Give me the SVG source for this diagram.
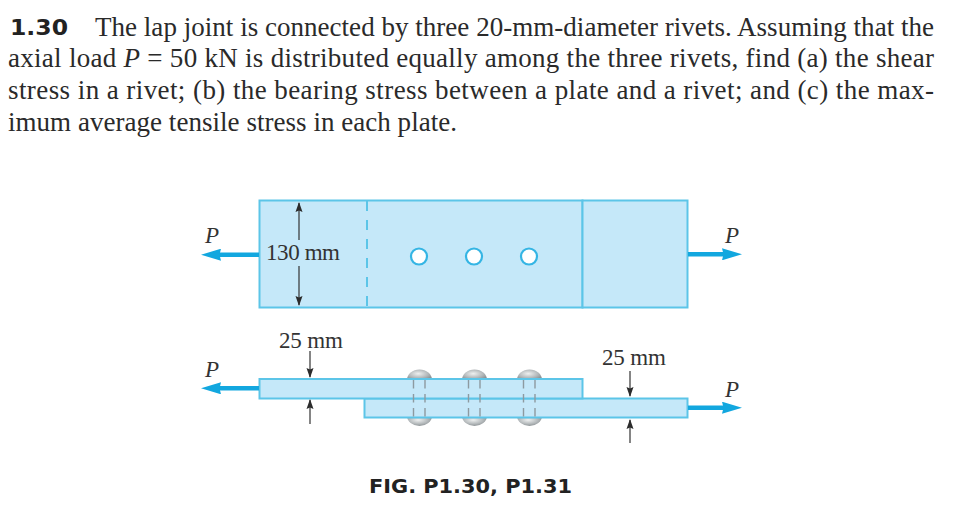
<svg xmlns="http://www.w3.org/2000/svg" width="979" height="523" viewBox="0 0 979 523">
<defs>
<radialGradient id="rivet" cx="0.45" cy="0.4" r="0.7"><stop offset="0" stop-color="#eef0f0"/><stop offset="0.55" stop-color="#b4b9bb"/><stop offset="1" stop-color="#7d8386"/></radialGradient>
<marker id="bl" markerUnits="userSpaceOnUse" markerWidth="20" markerHeight="12" refX="6" refY="6" orient="auto"><path d="M0,0 L20,6 L0,12 L1.500,6 Z" fill="#12a7df"/></marker>
<marker id="dk" markerUnits="userSpaceOnUse" markerWidth="10" markerHeight="8" refX="9" refY="4" orient="auto"><path d="M0,0.500 L10,4 L0,7.500 L1.500,4 Z" fill="#2b2b2b"/></marker>
</defs>
<style>
.t{font-family:"Liberation Serif",serif;font-size:27px;fill:#2a2a2a}
.d{font-family:"Liberation Serif",serif;font-size:23px;fill:#333}
.p{font-family:"Liberation Serif",serif;font-size:23px;font-style:italic;fill:#333}
.b{font-family:"DejaVu Sans",sans-serif;font-weight:700;fill:#222}
.pl{fill:#c5e8f9;stroke:#5cc5e8;stroke-width:2}
.f{stroke:#12a7df;stroke-width:4.500;fill:none;marker-end:url(#bl)}
.a{stroke:#333;stroke-width:1.200;fill:none;marker-end:url(#dk)}
.h{fill:#fff;stroke:#35b5e4;stroke-width:2.200}
.g{stroke:#8d9aa0;stroke-width:1.400;stroke-dasharray:8.500 5.500;fill:none}
</style>
<rect width="979" height="523" fill="#fff"/>
<g id="problem-text">
<text class="b" x="10" y="35" font-size="22" textLength="58" lengthAdjust="spacingAndGlyphs">1.30</text>
<text class="t" x="95" y="36" textLength="839" lengthAdjust="spacing">The lap joint is connected by three 20-mm-diameter rivets. Assuming that the</text>
<text class="t" x="8" y="67" textLength="926" lengthAdjust="spacing">axial load <tspan font-style="italic">P</tspan> = 50 kN is distributed equally among the three rivets, find (a) the shear</text>
<text class="t" x="8" y="99" textLength="926" lengthAdjust="spacing">stress in a rivet; (b) the bearing stress between a plate and a rivet; and (c) the max-</text>
<text class="t" x="8" y="131" textLength="449" lengthAdjust="spacing">imum average tensile stress in each plate.</text>
</g>
<g id="top-view">
<rect class="pl" x="259.500" y="200.500" width="323" height="107"/>
<rect class="pl" x="582.500" y="200.500" width="105" height="107"/>
<line x1="367" y1="201" x2="367" y2="307" stroke="#5cc5e8" stroke-width="2" stroke-dasharray="10 9"/>
<circle class="h" cx="419" cy="256.500" r="8"/>
<circle class="h" cx="474" cy="256.500" r="8"/>
<circle class="h" cx="529" cy="256.500" r="8"/>
</g>
<g id="side-view">
<g id="rivets">
<path d="M407,380 a12.500,10.500 0 0 1 25,0 Z" fill="url(#rivet)"/>
<path d="M462,380 a12.500,10.500 0 0 1 25,0 Z" fill="url(#rivet)"/>
<path d="M517,380 a12.500,10.500 0 0 1 25,0 Z" fill="url(#rivet)"/>
<path d="M407,416 a12.500,10 0 0 0 25,0 Z" fill="url(#rivet)"/>
<path d="M462,416 a12.500,10 0 0 0 25,0 Z" fill="url(#rivet)"/>
<path d="M517,416 a12.500,10 0 0 0 25,0 Z" fill="url(#rivet)"/>
</g>
<rect class="pl" x="364.500" y="398.500" width="323" height="19"/>
<rect class="pl" x="259.500" y="379" width="323" height="19.500"/>
<path class="g" d="M413.500,380V417M425,380V417M468.500,380V417M480,380V417M523.500,380V417M535,380V417"/>
</g>
<g id="connectors">
<line class="f" x1="259" y1="254.700" x2="215" y2="254.700"/>
<line class="f" x1="688" y1="254.300" x2="728" y2="254.300"/>
<line class="f" x1="259" y1="388.300" x2="215" y2="388.300"/>
<line class="f" x1="688" y1="407.700" x2="728" y2="407.700"/>
<line class="a" x1="299" y1="240" x2="299" y2="203"/>
<line class="a" x1="299" y1="266" x2="299" y2="305"/>
<line class="a" x1="310" y1="351" x2="310" y2="377"/>
<line class="a" x1="310" y1="424" x2="310" y2="400"/>
<line class="a" x1="630" y1="371" x2="630" y2="396"/>
<line class="a" x1="630" y1="443" x2="630" y2="420"/>
</g>
<g id="labels">
<text class="p" x="205" y="243">P</text>
<text class="p" x="725" y="243">P</text>
<text class="p" x="205" y="377">P</text>
<text class="p" x="725" y="397">P</text>
<text class="d" x="266" y="260" textLength="74" lengthAdjust="spacing">130 mm</text>
<text class="d" x="279" y="348" textLength="64" lengthAdjust="spacing">25 mm</text>
<text class="d" x="602" y="365" textLength="64" lengthAdjust="spacing">25 mm</text>
<text class="b" x="369" y="493" font-size="20" textLength="203" lengthAdjust="spacingAndGlyphs">FIG. P1.30, P1.31</text>
</g>
</svg>
